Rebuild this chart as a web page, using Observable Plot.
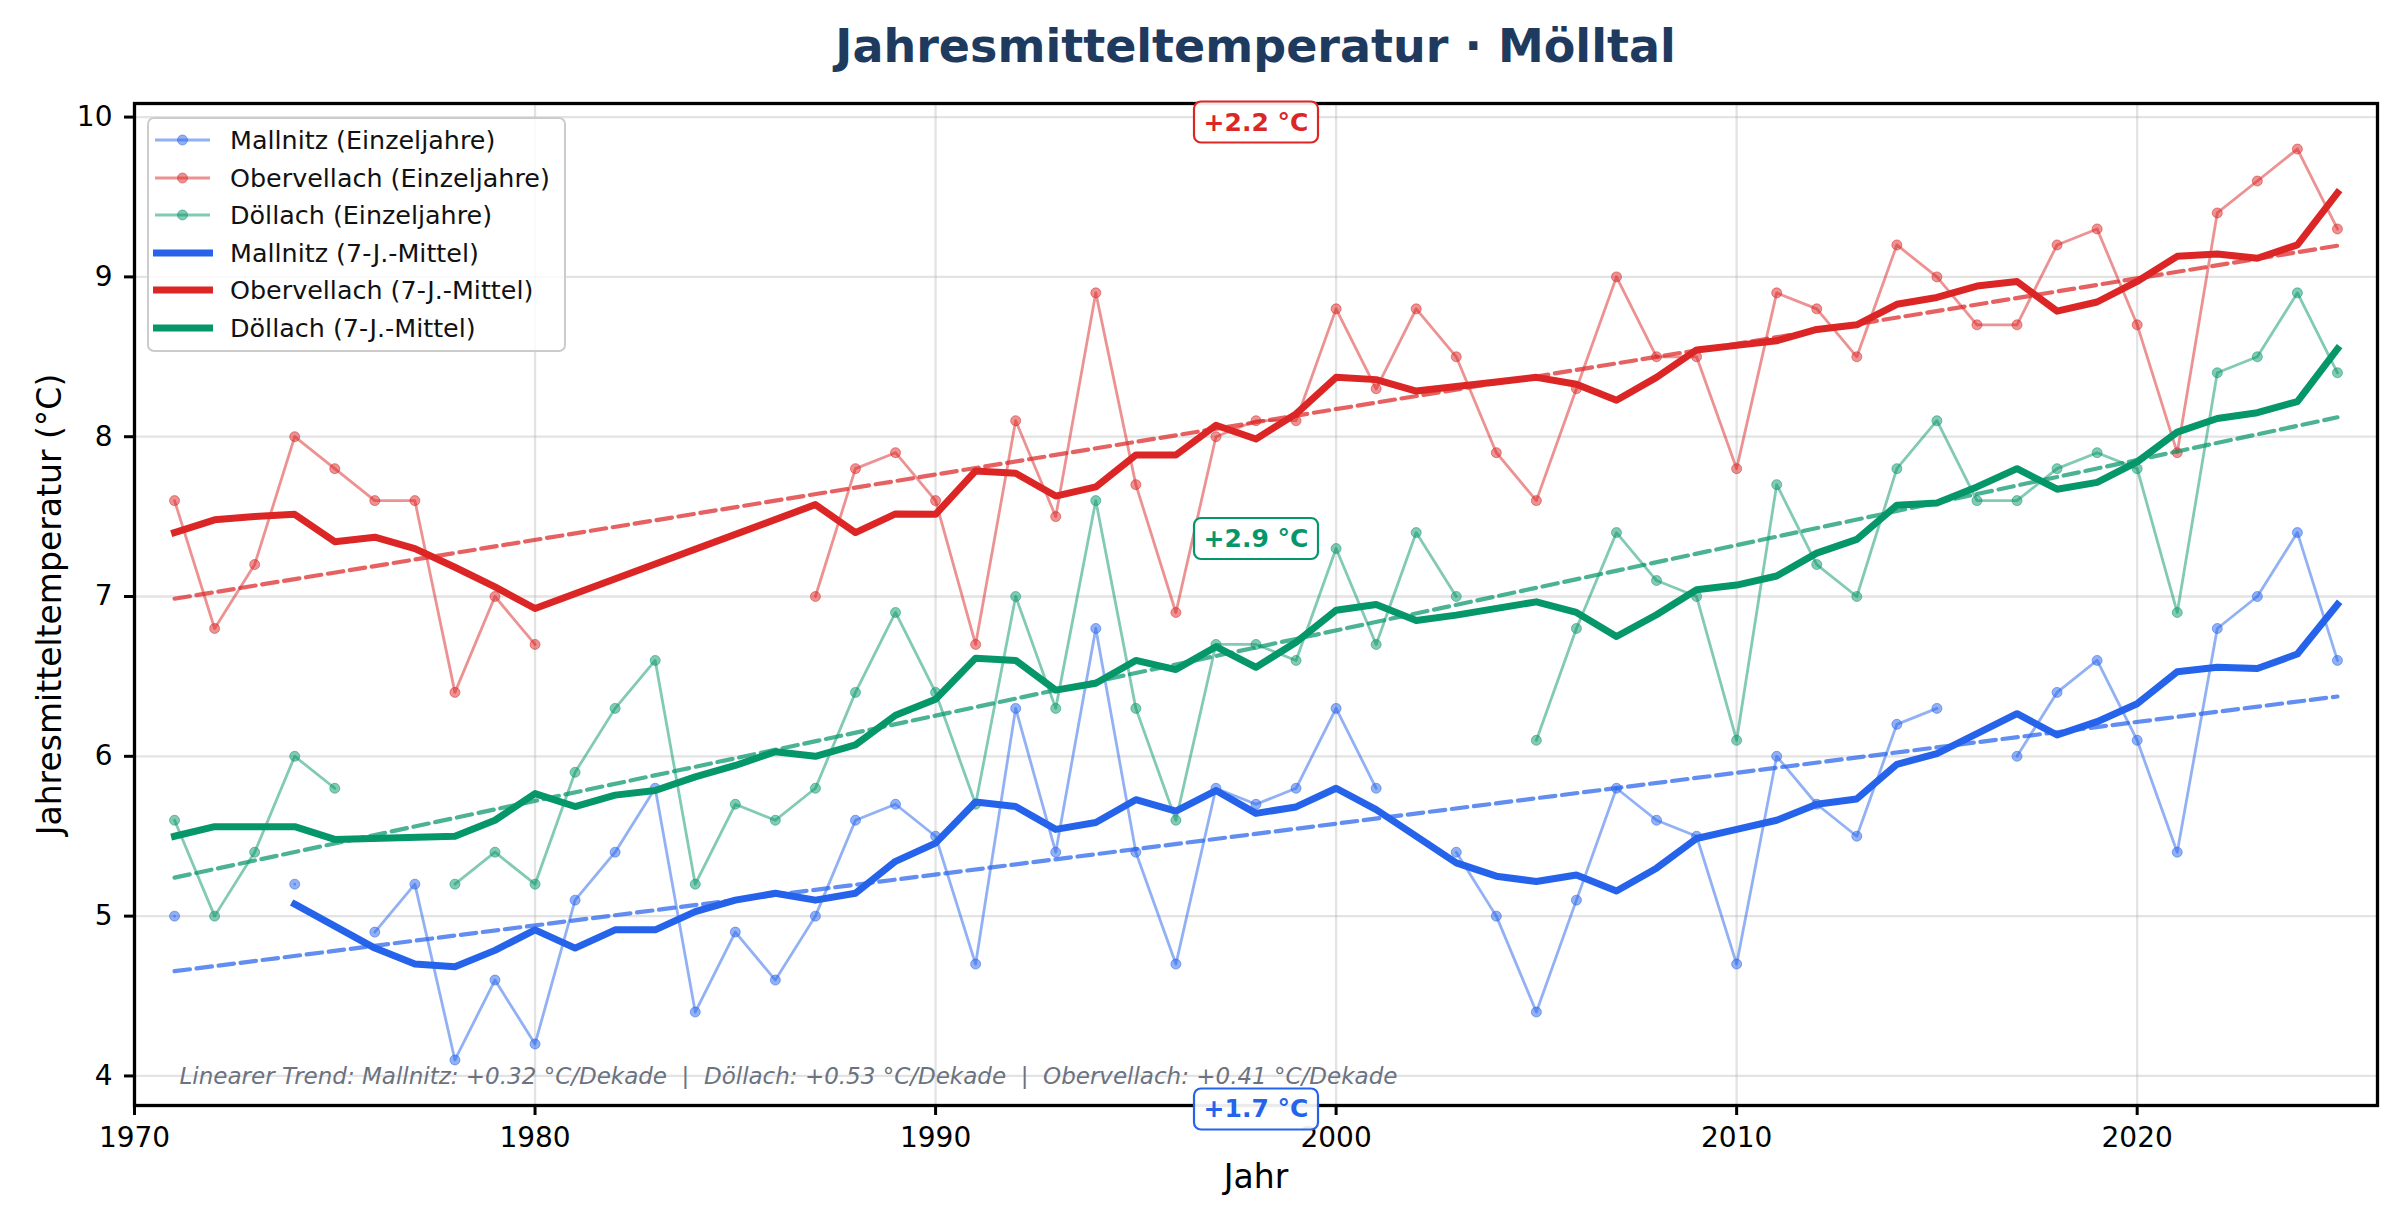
<!DOCTYPE html>
<html lang="de">
<head>
<meta charset="utf-8">
<title>Jahresmitteltemperatur · Mölltal</title>
<script src="https://cdn.jsdelivr.net/npm/d3@7"></script>
<script src="https://cdn.jsdelivr.net/npm/@observablehq/plot@0.6"></script>
<style>
  html, body { margin: 0; padding: 0; background: #ffffff; }
  #wrap { position: relative; width: 2397px; height: 1230px; background: #ffffff; font-family: "DejaVu Sans", sans-serif; overflow: hidden; }
  #title { position: absolute; left: 134px; width: 2243px; top: 0; height: 92px; line-height: 92px; text-align: center;
           font-size: 46px; font-weight: bold; color: #1e3a5f; }
  #chart { position: absolute; left: 0; top: 80px; }
  #legend { position: absolute; left: 147px; top: 117px; width: 419px; height: 235px; box-sizing: border-box;
            border: 2px solid #cccccc; border-radius: 7px; background: rgba(255,255,255,0.8); }
  #legend .row { position: absolute; left: 0; height: 38px; width: 100%; }
  #legend .row svg { position: absolute; left: 4px; top: 0; }
  #legend .row span { position: absolute; left: 81px; top: 0; line-height: 38px; font-size: 25.4px; color: #111; white-space: nowrap; }
</style>
</head>
<body>
<div id="wrap">
  <div id="title">Jahresmitteltemperatur · Mölltal</div>
  <div id="chart"></div>
  <div id="legend"></div>
</div>
<script>
// Stations, drawing order and colours
const stations = ["Mallnitz", "Obervellach", "Döllach"];
const stationColors = ["#2563eb", "#dc2626", "#059669"];

// Annual mean temperatures (°C), 1971–2025; null = no measurement
const years = d3.range(1971, 2026);
const mallnitz = [
  5.0, null, null, 5.2, null, 4.9, 5.2, 4.1, 4.6, 4.2,   // 1971–1980
  5.1, 5.4, 5.8, 4.4, 4.9, 4.6, 5.0, 5.6, 5.7, 5.5,      // 1981–1990
  4.7, 6.3, 5.4, 6.8, 5.4, 4.7, 5.8, 5.7, 5.8, 6.3,      // 1991–2000
  5.8, null, 5.4, 5.0, 4.4, 5.1, 5.8, 5.6, 5.5, 4.7,     // 2001–2010
  6.0, 5.7, 5.5, 6.2, 6.3, null, 6.0, 6.4, 6.6, 6.1,     // 2011–2020
  5.4, 6.8, 7.0, 7.4, 6.6                                // 2021–2025
];
const obervellach = [
  7.6, 6.8, 7.2, 8.0, 7.8, 7.6, 7.6, 6.4, 7.0, 6.7,
  null, null, null, null, null, null, 7.0, 7.8, 7.9, 7.6,
  6.7, 8.1, 7.5, 8.9, 7.7, 6.9, 8.0, 8.1, 8.1, 8.8,
  8.3, 8.8, 8.5, 7.9, 7.6, 8.3, 9.0, 8.5, 8.5, 7.8,
  8.9, 8.8, 8.5, 9.2, 9.0, 8.7, 8.7, 9.2, 9.3, 8.7,
  7.9, 9.4, 9.6, 9.8, 9.3
];
const doellach = [
  5.6, 5.0, 5.4, 6.0, 5.8, null, null, 5.2, 5.4, 5.2,
  5.9, 6.3, 6.6, 5.2, 5.7, 5.6, 5.8, 6.4, 6.9, 6.4,
  5.7, 7.0, 6.3, 7.6, 6.3, 5.6, 6.7, 6.7, 6.6, 7.3,
  6.7, 7.4, 7.0, null, 6.1, 6.8, 7.4, 7.1, 7.0, 6.1,
  7.7, 7.2, 7.0, 7.8, 8.1, 7.6, 7.6, 7.8, 7.9, 7.8,
  6.9, 8.4, 8.5, 8.9, 8.4
];
const stationValues = [mallnitz, obervellach, doellach];

// Axis ticks
const xTicks = [1970, 1980, 1990, 2000, 2010, 2020];
const yTicks = [4, 5, 6, 7, 8, 9, 10];

// Texts
const xLabel = "Jahr";
const yLabel = "Jahresmitteltemperatur (°C)";
const trendNote = "Linearer Trend: Mallnitz: +0.32 °C/Dekade \u00a0|\u00a0 Döllach: +0.53 °C/Dekade \u00a0|\u00a0 Obervellach: +0.41 °C/Dekade";

// Warming over the period, per station (Mallnitz, Obervellach, Döllach), and where it is labelled
const changeLabels = ["+1.7 °C", "+2.2 °C", "+2.9 °C"];
const changeYear = [1998, 1998, 1998];
const changeTemp = [3.79, 9.966, 7.36];

// Centred 7-year mean (at least 4 measured years in the window), kept only for measured years
function movingMean(values, half = 3, minCount = 4) {
  return values.map((v, i) => {
    if (v == null) return null;
    const w = [];
    for (let j = i - half; j <= i + half; j++) {
      if (j >= 0 && j < values.length && values[j] != null) w.push(values[j]);
    }
    return w.length >= minCount ? d3.mean(w) : null;
  });
}

const series = stations.map((name, k) => {
  const vals = stationValues[k];
  const ma = movingMean(vals);
  return {
    name,
    color: stationColors[k],
    rows: years.map((year, i) => ({year, value: vals[i]})),
    measured: years.map((year, i) => ({year, value: vals[i]})).filter(d => d.value != null),
    smooth: years.map((year, i) => ({year, value: ma[i]})).filter(d => d.value != null)
  };
});

const gridStyle = {stroke: "#b0b0b0", strokeOpacity: 0.35, strokeWidth: 2.3};

const marks = [
  Plot.gridX({ticks: xTicks, ...gridStyle}),
  Plot.gridY({ticks: yTicks, ...gridStyle})
];

// single years: thin translucent lines with dots
for (const s of series) {
  marks.push(Plot.line(s.rows, {x: "year", y: "value", stroke: s.color, strokeWidth: 2.8, strokeOpacity: 0.5}));
  marks.push(Plot.dot(s.measured, {x: "year", y: "value", r: 5, fill: s.color, fillOpacity: 0.5, stroke: s.color, strokeOpacity: 0.5, strokeWidth: 1}));
}
// 7-year means
for (const s of series) {
  marks.push(Plot.line(s.smooth, {x: "year", y: "value", stroke: s.color, strokeWidth: 7,
    strokeLinejoin: "round", strokeLinecap: "square"}));
}
// linear trends
for (const s of series) {
  marks.push(Plot.linearRegressionY(s.measured, {x: "year", y: "value", stroke: s.color, ci: 0,
    strokeWidth: 4.2, strokeOpacity: 0.72, strokeDasharray: "15.5 6.7"}));
}

marks.push(Plot.frame({stroke: "#000000", strokeWidth: 3.3}));
marks.push(Plot.axisX({ticks: xTicks, tickFormat: d => String(d), tickSize: 10, tickPadding: 12,
  fontSize: 28, strokeWidth: 3, label: null, fill: "#000"}));
marks.push(Plot.axisY({ticks: yTicks, tickFormat: d => String(d), tickSize: 10, tickPadding: 12,
  fontSize: 28, strokeWidth: 3, label: null, fill: "#000"}));

marks.push(Plot.text([xLabel], {text: d => d, frameAnchor: "bottom", dy: 82, fontSize: 33, fill: "#000"}));
marks.push(Plot.text([yLabel], {text: d => d, frameAnchor: "left", dx: -84, rotate: -90,
  textAnchor: "middle", fontSize: 33, fill: "#000"}));
marks.push(Plot.text([trendNote], {text: d => d, frameAnchor: "bottom-left", dx: 45, dy: -22,
  textAnchor: "start", lineAnchor: "bottom", fontSize: 23, fontStyle: "italic", fill: "#6b7280"}));

// change labels, one per station
changeLabels.forEach((label, k) => {
  marks.push(Plot.text([label], {x: () => changeYear[k], y: () => changeTemp[k], text: d => d,
    fontSize: 25, fontWeight: "bold", fill: stationColors[k]}));
});

const chart = Plot.plot({
  width: 2397,
  height: 1150,
  marginLeft: 134,
  marginRight: 20,
  marginTop: 23,
  marginBottom: 125,
  style: {fontFamily: "DejaVu Sans", fontSize: "28px", color: "#000", background: "transparent", overflow: "visible"},
  x: {domain: [1970, 2026]},
  y: {domain: [3.815, 10.085]},
  marks
});

document.getElementById("chart").appendChild(chart);

// rounded boxes behind the change labels
const NS = "http://www.w3.org/2000/svg";
chart.querySelectorAll("text").forEach(t => {
  const k = changeLabels.indexOf(t.textContent);
  if (k < 0) return;
  const b = t.getBBox();
  const padX = 9.6, padY = 6;
  const rect = document.createElementNS(NS, "rect");
  rect.setAttribute("x", b.x - padX);
  rect.setAttribute("y", b.y - padY);
  rect.setAttribute("width", b.width + 2 * padX);
  rect.setAttribute("height", b.height + 2 * padY);
  rect.setAttribute("rx", 7);
  rect.setAttribute("fill", "#ffffff");
  rect.setAttribute("fill-opacity", 0.92);
  rect.setAttribute("stroke", stationColors[k]);
  rect.setAttribute("stroke-width", 2.2);
  if (t.getAttribute("transform")) rect.setAttribute("transform", t.getAttribute("transform"));
  t.parentNode.insertBefore(rect, t);
});

// legend inside the plot area
const legend = document.getElementById("legend");
const entries = [
  ...series.map(s => ({label: `${s.name} (Einzeljahre)`, color: s.color, thin: true})),
  ...series.map(s => ({label: `${s.name} (7-J.-Mittel)`, color: s.color, thin: false}))
];
entries.forEach((e, i) => {
  const row = document.createElement("div");
  row.className = "row";
  row.style.top = (2.3 + i * 37.5) + "px";
  const handle = e.thin
    ? `<line x1="2" x2="57" y1="19" y2="19" stroke="${e.color}" stroke-opacity="0.5" stroke-width="2.8"/>
       <circle cx="29.5" cy="19" r="5" fill="${e.color}" fill-opacity="0.5" stroke="${e.color}" stroke-opacity="0.5"/>`
    : `<line x1="0" x2="60" y1="19" y2="19" stroke="${e.color}" stroke-width="7"/>`;
  row.innerHTML = `<svg width="62" height="38">${handle}</svg><span>${e.label}</span>`;
  legend.appendChild(row);
});
</script>
</body>
</html>
